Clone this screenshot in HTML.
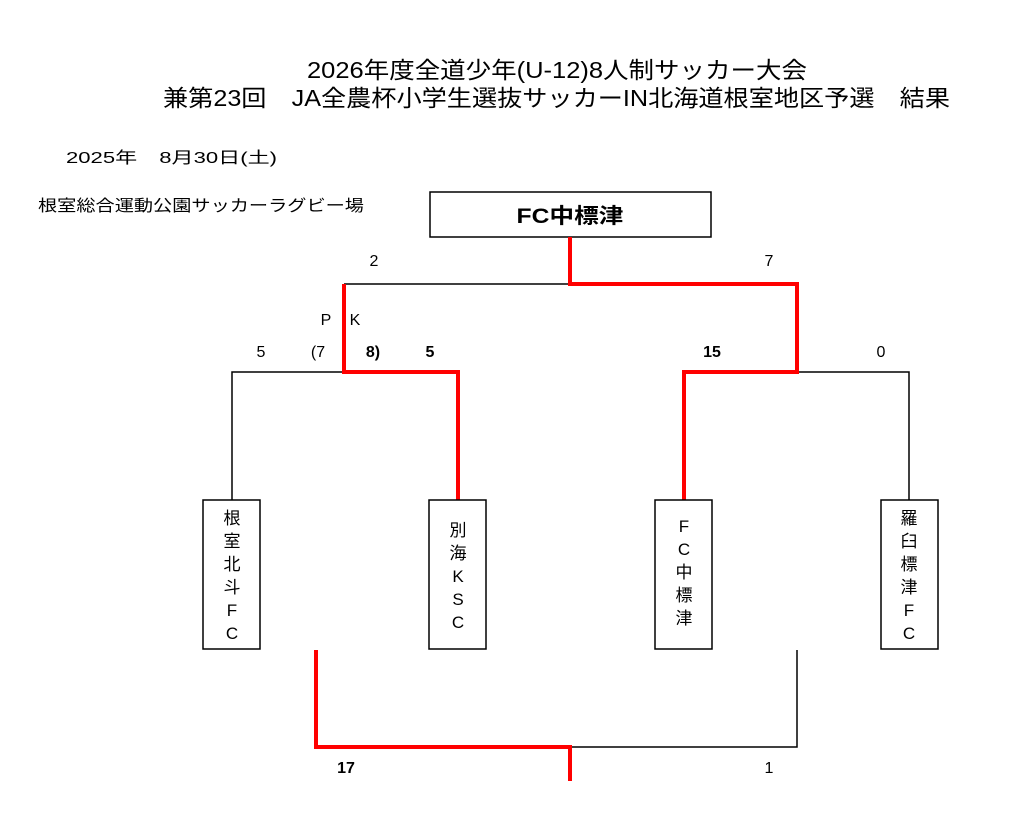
<!DOCTYPE html>
<html><head><meta charset="utf-8"><style>html,body{margin:0;padding:0;background:#fff}svg{display:block}</style></head>
<body>
<svg width="1024" height="834" viewBox="0 0 1024 834" xmlns="http://www.w3.org/2000/svg" font-family="'Liberation Sans','Noto Sans CJK JP',sans-serif" fill="#000">
<text x="307" y="78" font-size="23" textLength="500" lengthAdjust="spacingAndGlyphs">2026年度全道少年(U-12)8人制サッカー大会</text>
<text x="163" y="106" font-size="23" textLength="787" lengthAdjust="spacingAndGlyphs">兼第23回　JA全農杯小学生選抜サッカーIN北海道根室地区予選　結果</text>
<text x="66" y="163" font-size="16" textLength="211" lengthAdjust="spacingAndGlyphs">2025年　8月30日(土)</text>
<text x="38" y="211" font-size="16" textLength="326" lengthAdjust="spacingAndGlyphs">根室総合運動公園サッカーラグビー場</text>
<rect x="430" y="192" width="281" height="45" fill="none" stroke="#000" stroke-width="1.5"/>
<text x="570" y="223" font-size="21" font-weight="bold" text-anchor="middle" textLength="107" lengthAdjust="spacingAndGlyphs">FC中標津</text>
<g fill="none" stroke="#000" stroke-width="1.5">
<polyline points="344,284 570,284"/>
<polyline points="344,372 232,372 232,500"/>
<polyline points="797,372 909,372 909,500"/>
<polyline points="570,747 797,747 797,650"/>
</g>
<g fill="none" stroke="#f00" stroke-width="4">
<polyline points="570,237 570,284 797,284 797,372 684,372 684,500"/>
<polyline points="344,284 344,372 458,372 458,500"/>
<polyline points="316,650 316,747 570,747 570,781"/>
</g>
<g fill="#fff" stroke="#000" stroke-width="1.5">
<rect x="203" y="500" width="57" height="149"/>
<rect x="429" y="500" width="57" height="149"/>
<rect x="655" y="500" width="57" height="149"/>
<rect x="881" y="500" width="57" height="149"/>
</g>
<g font-size="16">
<text x="374" y="266" text-anchor="middle">2</text>
<text x="769" y="266" text-anchor="middle">7</text>
<text x="326" y="325" text-anchor="middle">P</text>
<text x="355" y="325" text-anchor="middle">K</text>
<text x="261" y="357" text-anchor="middle">5</text>
<text x="318" y="357" text-anchor="middle">(7</text>
<text x="373" y="357" text-anchor="middle" font-weight="bold">8)</text>
<text x="430" y="357" text-anchor="middle" font-weight="bold">5</text>
<text x="712" y="357" text-anchor="middle" font-weight="bold">15</text>
<text x="881" y="357" text-anchor="middle">0</text>
<text x="346" y="773" text-anchor="middle" font-weight="bold">17</text>
<text x="769" y="773" text-anchor="middle">1</text>
</g>
<g font-size="17" text-anchor="middle">
<text x="232" y="524">根</text><text x="232" y="547">室</text><text x="232" y="570">北</text><text x="232" y="593">斗</text><text x="232" y="616">F</text><text x="232" y="639">C</text>
<text x="458" y="536">別</text><text x="458" y="559">海</text><text x="458" y="582">K</text><text x="458" y="605">S</text><text x="458" y="628">C</text>
<text x="684" y="532">F</text><text x="684" y="555">C</text><text x="684" y="578">中</text><text x="684" y="601">標</text><text x="684" y="624">津</text>
<text x="909" y="524">羅</text><text x="909" y="547">臼</text><text x="909" y="570">標</text><text x="909" y="593">津</text><text x="909" y="616">F</text><text x="909" y="639">C</text>
</g>
</svg>
</body></html>
